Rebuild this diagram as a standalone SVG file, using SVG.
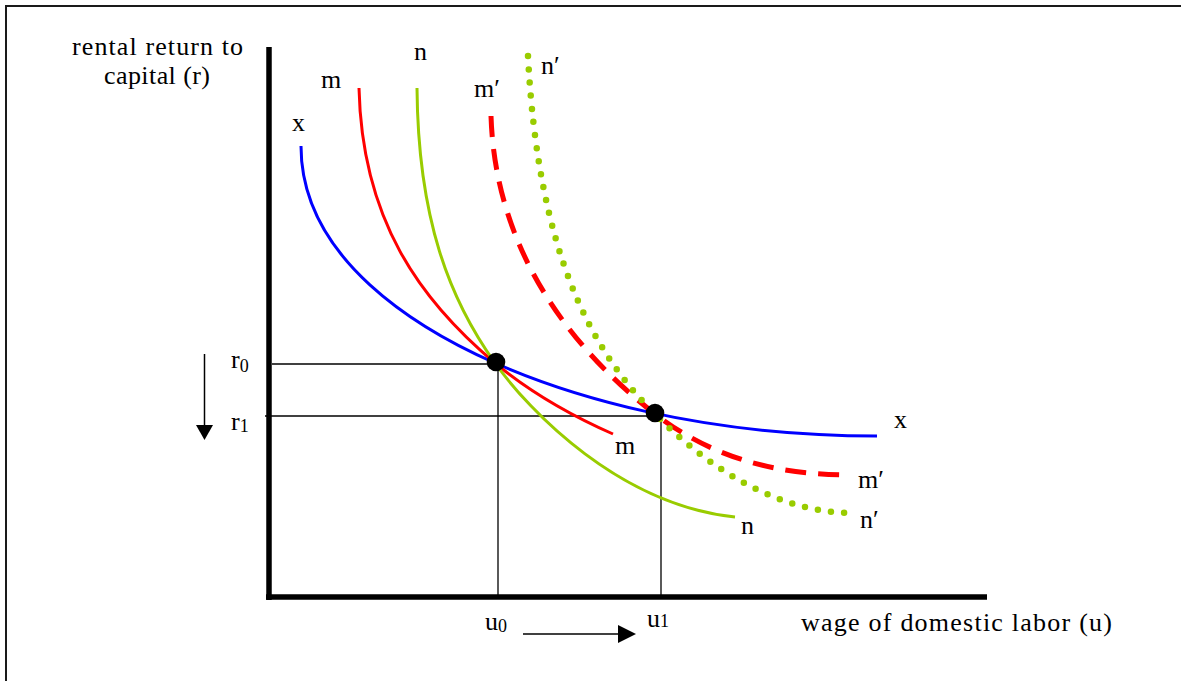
<svg xmlns="http://www.w3.org/2000/svg" width="1181" height="681" viewBox="0 0 1181 681">
<style>
text{font-family:"Liberation Serif","Times New Roman",serif;font-size:26px;fill:#000}
.sub{font-size:18px}
.curve{fill:none;stroke-width:3}
.dashed{fill:none;stroke-width:5;stroke-dasharray:21 12}
.dotted{fill:none;stroke-width:6.5;stroke-linecap:round;stroke-dasharray:0 13.2}
.guide{stroke:#000;stroke-width:1.3;fill:none}
.axis{stroke:#000;stroke-width:5.5;fill:none}
</style>
<rect x="6" y="6" width="1200" height="700" fill="#fff" stroke="#1a1a1a" stroke-width="2"/>
<g id="axes">
<line class="axis" x1="269" y1="47" x2="269" y2="600"/>
<line class="axis" x1="266" y1="597" x2="987" y2="597"/>
</g>
<g id="guides">
<line class="guide" x1="272" y1="364" x2="496" y2="364"/>
<line class="guide" x1="265" y1="416" x2="661" y2="416"/>
<line class="guide" x1="498" y1="364" x2="498" y2="597"/>
<line class="guide" x1="661" y1="414" x2="661" y2="597"/>
</g>
<g id="connectors">
<path id="curve-x" class="curve" stroke="#0000ff" d="M301,146 C301,260 420,330 495,363 C570,396 700,436 877,436"/>
<path id="curve-m" class="curve" stroke="#ff0000" d="M359,88 C362,220 420,300 495,363 C530,392 570,415 613,434"/>
<path id="curve-n" class="curve" stroke="#99cc00" d="M417,88 C418,220 450,300 495,363 C530,412 620,505 735,517"/>
<path id="curve-m-prime" class="dashed" stroke="#ff0000" d="M491,116 C495,240 560,340 655,414 C720,464 790,475 851,475"/>
<path id="curve-n-prime" class="dotted" stroke="#99cc00" d="M528,56 C538,250 590,350 655,414 C710,470 780,513 852,513"/>
</g>
<g id="equilibrium-0"><circle cx="496" cy="362" r="9.3" fill="#000"/></g>
<g id="equilibrium-1"><circle cx="655" cy="413" r="9.3" fill="#000"/></g>
<g id="arrows">
<line x1="204.5" y1="354" x2="204.5" y2="427" stroke="#000" stroke-width="1.5"/>
<polygon points="196,425 213,425 204.5,440" fill="#000"/>
<line x1="523" y1="634" x2="620" y2="634" stroke="#000" stroke-width="1.5"/>
<polygon points="618,625 618,643 636,634" fill="#000"/>
</g>
<g id="labels">
<text x="72" y="55" textLength="171" lengthAdjust="spacing">rental return to</text>
<text x="104" y="84" textLength="106" lengthAdjust="spacing">capital (r)</text>
<text x="292" y="131">x</text>
<text x="321" y="88">m</text>
<text x="414" y="60">n</text>
<text x="474" y="97">m′</text>
<text x="541" y="74">n′</text>
<text x="615" y="454">m</text>
<text x="741" y="534">n</text>
<text x="894" y="428">x</text>
<text x="858" y="488">m′</text>
<text x="860" y="528">n′</text>
<text x="231" y="368">r<tspan class="sub" dy="4">0</tspan></text>
<text x="231" y="430">r<tspan class="sub" dy="2">1</tspan></text>
<text x="485" y="630">u<tspan class="sub" dy="2">0</tspan></text>
<text x="647" y="627">u<tspan class="sub" dy="0">1</tspan></text>
<text x="801" y="631" textLength="311" lengthAdjust="spacing">wage of domestic labor (u)</text>
</g>
</svg>
